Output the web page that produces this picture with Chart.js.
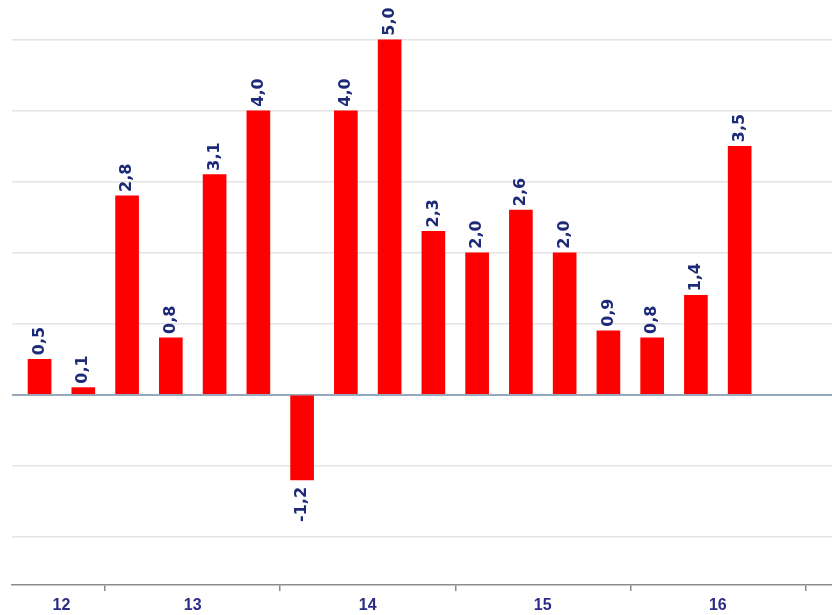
<!DOCTYPE html>
<html>
<head>
<meta charset="utf-8">
<script src="https://cdn.jsdelivr.net/npm/chart.js@4/dist/chart.umd.min.js"></script>
<style>
  html, body { margin: 0; padding: 0; background: #ffffff; }
  #c { display: block; }
</style>
</head>
<body>
<canvas id="c" width="832" height="615"></canvas>
<script>
// ---- data ----
const quarters = ['III-12','IV-12','I-13','II-13','III-13','IV-13','I-14','II-14','III-14','IV-14','I-15','II-15','III-15','IV-15','I-16','II-16','III-16'];
const values = [0.5, 0.1, 2.8, 0.8, 3.1, 4.0, -1.2, 4.0, 5.0, 2.3, 2.0, 2.6, 2.0, 0.9, 0.8, 1.4, 3.5];
const years = ['12', '13', '14', '15', '16'];
const quartersPerYear = [2, 4, 4, 4, 4];
const gridValues = [-2, -1, 0, 1, 2, 3, 4, 5];

// year label centres and group boundaries (in quarter-index units)
const yearCenters = [];
const yearBounds = [];
(function () {
  let start = 0;
  quartersPerYear.forEach(function (n) {
    yearCenters.push(start + (n - 1) / 2);
    yearBounds.push(start + n - 0.5);
    start += n;
  });
})();

const points = values.map(function (v, i) { return { x: i, y: v }; });

const fmt = function (v) { return v.toFixed(1).replace('.', ','); };

const valueLabels = {
  id: 'valueLabels',
  afterDatasetsDraw: function (chart) {
    const ctx = chart.ctx;
    const meta = chart.getDatasetMeta(0);
    ctx.save();
    ctx.font = 'bold 16px "DejaVu Sans"';
    ctx.fillStyle = '#1c2a78';
    ctx.textBaseline = 'middle';
    meta.data.forEach(function (bar, i) {
      const v = values[i];
      ctx.save();
      ctx.translate(bar.x, bar.y);
      ctx.rotate(-Math.PI / 2);
      if (v >= 0) {
        ctx.textAlign = 'left';
        ctx.fillText(fmt(v), 4, 0);
      } else {
        ctx.textAlign = 'right';
        ctx.fillText(fmt(v), -7, 0);
      }
      ctx.restore();
    });
    ctx.restore();
  }
};

new Chart(document.getElementById('c'), {
  type: 'bar',
  data: {
    datasets: [{
      label: 'values',
      data: points,
      backgroundColor: '#ff0000',
      borderWidth: 0,
      barThickness: 23
    }]
  },
  options: {
    responsive: false,
    animation: false,
    devicePixelRatio: 1,
    layout: { padding: 0 },
    plugins: {
      legend: { display: false },
      tooltip: { enabled: false }
    },
    scales: {
      x: {
        type: 'linear',
        min: -0.63,
        max: 18.11,
        offset: false,
        afterBuildTicks: function (scale) {
          const t = [];
          yearCenters.forEach(function (c) { t.push({ value: c }); });
          yearBounds.forEach(function (b) { t.push({ value: b }); });
          t.sort(function (a, b) { return a.value - b.value; });
          scale.ticks = t;
        },
        afterFit: function (scale) { scale.height = 30; },
        ticks: {
          autoSkip: false,
          maxRotation: 0,
          padding: 5,
          color: '#2b2d85',
          font: { family: 'Liberation Sans', weight: 'bold', size: 16 },
          callback: function (value) {
            const idx = yearCenters.indexOf(value);
            return idx >= 0 ? years[idx] : '';
          }
        },
        grid: {
          offset: false,
          drawOnChartArea: false,
          drawTicks: true,
          tickLength: 6,
          color: function (ctx) {
            return (ctx.tick && yearBounds.indexOf(ctx.tick.value) >= 0) ? '#8a8a8a' : 'rgba(0,0,0,0)';
          },
          lineWidth: 1.5
        },
        border: { display: true, color: '#8c8c8c', width: 1.5 }
      },
      y: {
        min: -2.68,
        max: 5.56,
        afterBuildTicks: function (scale) {
          scale.ticks = gridValues.map(function (v) { return { value: v }; });
        },
        afterFit: function (scale) { scale.width = 12; },
        ticks: { display: false },
        grid: {
          drawTicks: false,
          color: function (ctx) {
            return (ctx.tick && ctx.tick.value === 0) ? '#96a8bb' : '#e4e4e4';
          },
          lineWidth: function (ctx) {
            return (ctx.tick && ctx.tick.value === 0) ? 2 : 1.5;
          }
        },
        border: { display: false }
      }
    }
  },
  plugins: [valueLabels]
});
</script>
</body>
</html>
